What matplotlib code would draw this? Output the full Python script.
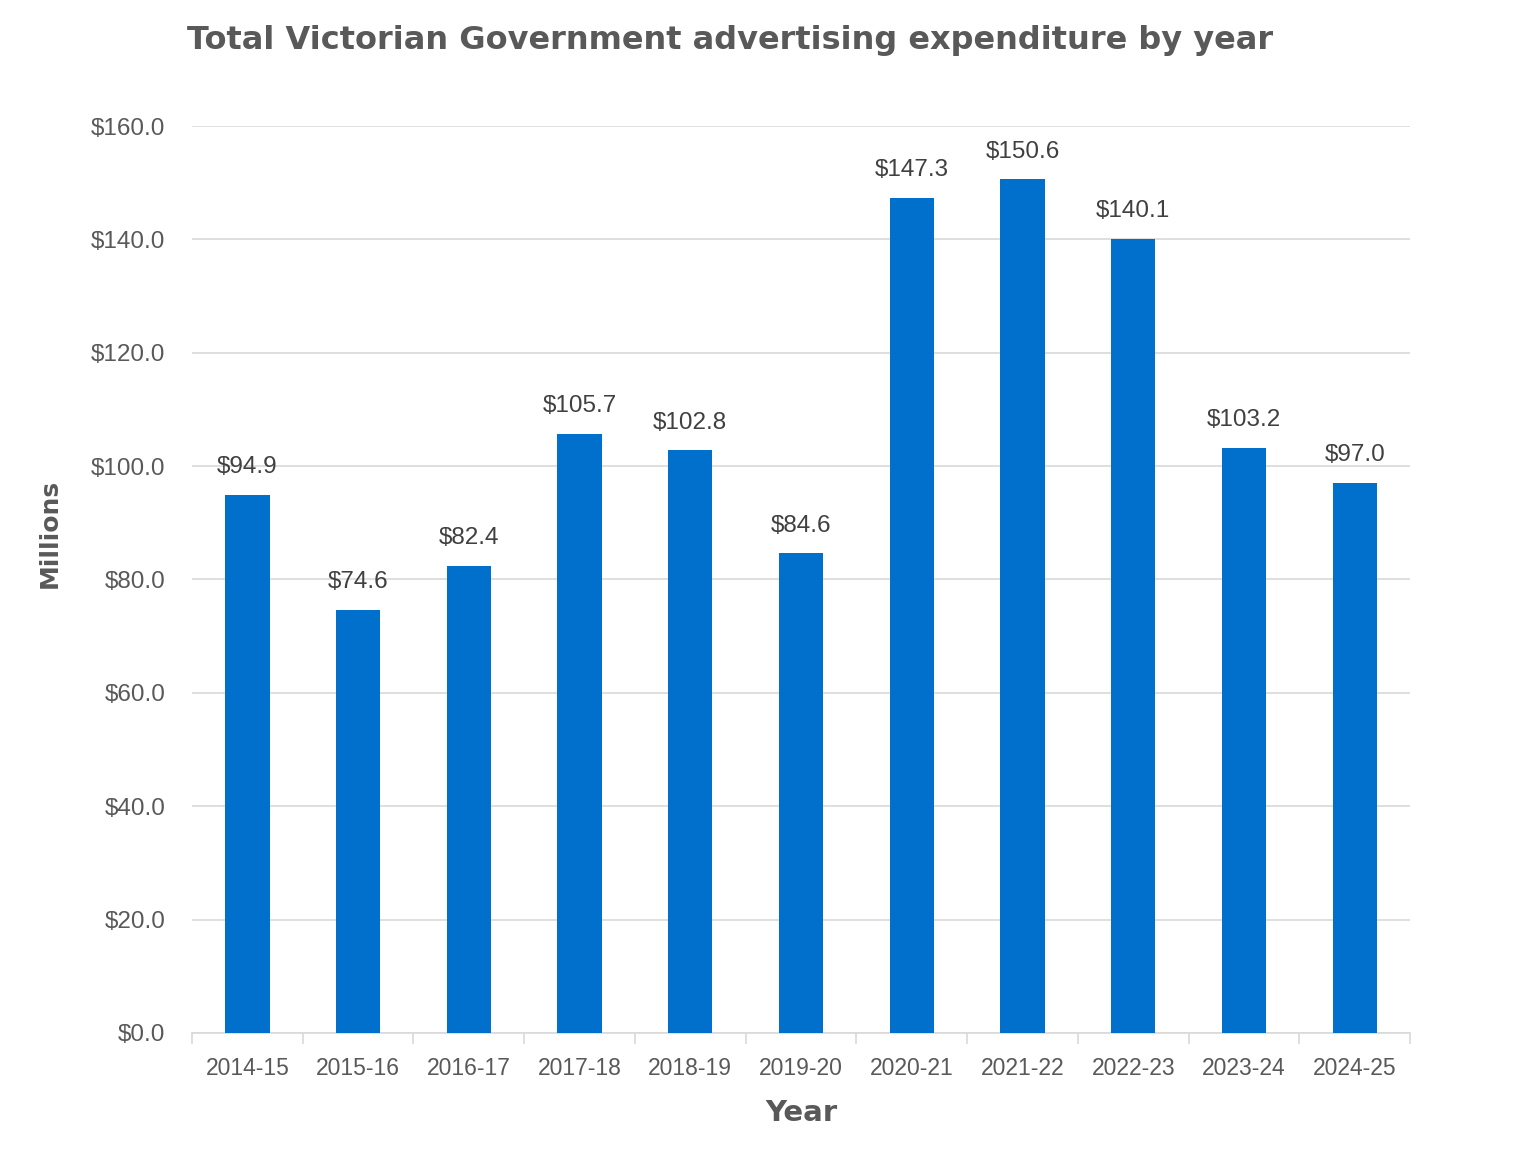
import numpy as np
import matplotlib.pyplot as plt

years = ['2014-15', '2015-16', '2016-17', '2017-18', '2018-19', '2019-20',
         '2020-21', '2021-22', '2022-23', '2023-24', '2024-25']
spend = [94.9, 74.6, 82.4, 105.7, 102.8, 84.6, 147.3, 150.6, 140.1, 103.2, 97.0]
y_ticks = [0, 20, 40, 60, 80, 100, 120, 140, 160]

grey = '#595959'
blue = '#0070CC'
plt.rcParams['font.family'] = ['Liberation Sans', 'DejaVu Sans']

fig = plt.figure(figsize=(15.36, 11.53), dpi=100)
ax = fig.add_axes([0.125, 0.1041, 0.793, 0.7866])

x = np.arange(len(years))
ax.bar(x, spend, width=0.4, color=blue, zorder=3)

# value labels above each bar
for xi, v in zip(x, spend):
    ax.annotate('${:.1f}'.format(v), (xi, v), xytext=(0, 12), textcoords='offset points',
                ha='center', va='bottom', fontsize=17.5, color='#404040')

ax.set_xlim(-0.5, len(years) - 0.5)
ax.set_ylim(0, 160)
ax.set_yticks(y_ticks)
ax.set_yticklabels(['${:.1f}'.format(t) for t in y_ticks])
ax.set_xticks(x)
ax.set_xticklabels(years)
ax.set_xticks(np.arange(-0.5, len(years)), minor=True)
ax.tick_params(axis='x', which='major', length=0, pad=17, labelsize=16.5, labelcolor=grey)
ax.tick_params(axis='x', which='minor', length=8, color='#D9D9D9', width=1.2)
ax.tick_params(axis='y', length=0, pad=19, labelsize=17.5, labelcolor=grey)

ax.grid(axis='y', color='#D9D9D9', linewidth=1.2, zorder=0)
for s in ['top', 'right', 'left']:
    ax.spines[s].set_visible(False)
ax.spines['bottom'].set_color('#D9D9D9')
ax.spines['bottom'].set_linewidth(1.2)

ax.set_xlabel('Year', fontsize=21, fontweight='bold', color=grey, family='DejaVu Sans')
ax.xaxis.set_label_coords(0.5, -0.073)
ax.set_ylabel('Millions', fontsize=18, fontweight='bold', color=grey, family='DejaVu Sans')
ax.yaxis.set_label_coords(-0.107, 0.551)

fig.text(0.475, 0.965, 'Total Victorian Government advertising expenditure by year',
         ha='center', va='center', fontsize=23, fontweight='bold', color=grey,
         family='DejaVu Sans')

fig.savefig('out.png', dpi=100)
